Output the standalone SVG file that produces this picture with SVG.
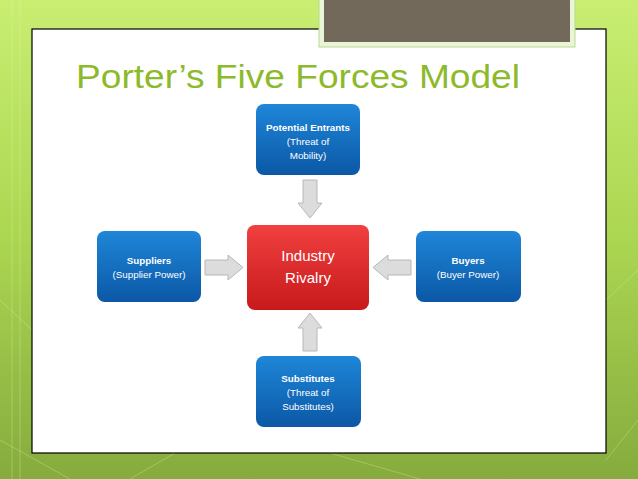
<svg xmlns="http://www.w3.org/2000/svg" width="638" height="479" viewBox="0 0 638 479">
<style>
.nt{font-family:"Liberation Sans",Arial,sans-serif;fill:#fff;text-anchor:middle}
.b{font-weight:bold;font-size:9.8px}
.r{font-size:9.8px}
.big{font-size:15px}
.arrow{fill:#dcdcdc;stroke:#b8b8b8;stroke-width:1}
</style>
<defs>
<linearGradient id="bg" x1="0" y1="0" x2="0" y2="1">
<stop offset="0" stop-color="#c9ee72"/>
<stop offset="0.5" stop-color="#abd651"/>
<stop offset="1" stop-color="#86ab3e"/>
</linearGradient>
<linearGradient id="blue" x1="0" y1="0" x2="0" y2="1">
<stop offset="0" stop-color="#1f86d8"/>
<stop offset="1" stop-color="#0b58a6"/>
</linearGradient>
<linearGradient id="red" x1="0" y1="0" x2="0" y2="1">
<stop offset="0" stop-color="#f0403f"/>
<stop offset="1" stop-color="#c8191c"/>
</linearGradient>
</defs>
<rect x="0" y="0" width="638" height="479" fill="url(#bg)"/>
<g stroke="#e6f7b0" stroke-opacity="0.3" stroke-width="1" fill="none">
<line x1="0" y1="440" x2="70" y2="479"/>
<line x1="0" y1="300" x2="32" y2="330"/>
<line x1="606" y1="300" x2="638" y2="270"/>
<line x1="606" y1="460" x2="638" y2="420"/>
<line x1="130" y1="479" x2="175" y2="453"/>
<line x1="330" y1="453" x2="420" y2="479"/>
<line x1="12" y1="0" x2="12" y2="479"/>
<line x1="20" y1="0" x2="20" y2="479"/>
</g>
<rect x="32" y="29" width="574" height="424" fill="#fff" stroke="#000" stroke-width="1.2"/>
<rect x="319" y="-2" width="256" height="49" fill="#eaf5d8" stroke="#b9d98a" stroke-width="1"/>
<rect x="324" y="-2" width="246" height="44" fill="#73695a"/>
<text x="76" y="88" font-family="'Century Gothic','Liberation Sans',Arial,sans-serif" font-size="33" textLength="444" lengthAdjust="spacingAndGlyphs" fill="#8cba2a">Porter’s Five Forces Model</text>
<g id="connectors">
<path class="arrow" d="M303,180 H317 V203 H322 L310,218 L298,203 H303 Z"/>
<path class="arrow" d="M303,351 H317 V328 H322 L310,313 L298,328 H303 Z"/>
<path class="arrow" d="M205,260 V275 H228 V280 L243,267.5 L228,255 V260 Z"/>
<path class="arrow" d="M411,260 V275 H388 V280 L373,267.5 L388,255 V260 Z"/>
</g>
<g id="potential-entrants">
<rect x="256" y="104" width="104" height="71" rx="8" fill="url(#blue)"/>
<text class="nt b" x="308" y="131">Potential Entrants</text>
<text class="nt r" x="308" y="145">(Threat of</text>
<text class="nt r" x="308" y="159">Mobility)</text>
</g>
<g id="suppliers">
<rect x="97" y="231" width="104" height="71" rx="8" fill="url(#blue)"/>
<text class="nt b" x="149" y="264">Suppliers</text>
<text class="nt r" x="149" y="278">(Supplier Power)</text>
</g>
<g id="industry-rivalry">
<rect x="247" y="225" width="122" height="85" rx="8" fill="url(#red)"/>
<text class="nt big" x="308" y="261">Industry</text>
<text class="nt big" x="308" y="283">Rivalry</text>
</g>
<g id="buyers">
<rect x="416" y="231" width="105" height="71" rx="8" fill="url(#blue)"/>
<text class="nt b" x="468" y="264">Buyers</text>
<text class="nt r" x="468" y="278">(Buyer Power)</text>
</g>
<g id="substitutes">
<rect x="256" y="356" width="105" height="71" rx="8" fill="url(#blue)"/>
<text class="nt b" x="308" y="382">Substitutes</text>
<text class="nt r" x="308" y="396">(Threat of</text>
<text class="nt r" x="308" y="410">Substitutes)</text>
</g>
</svg>
